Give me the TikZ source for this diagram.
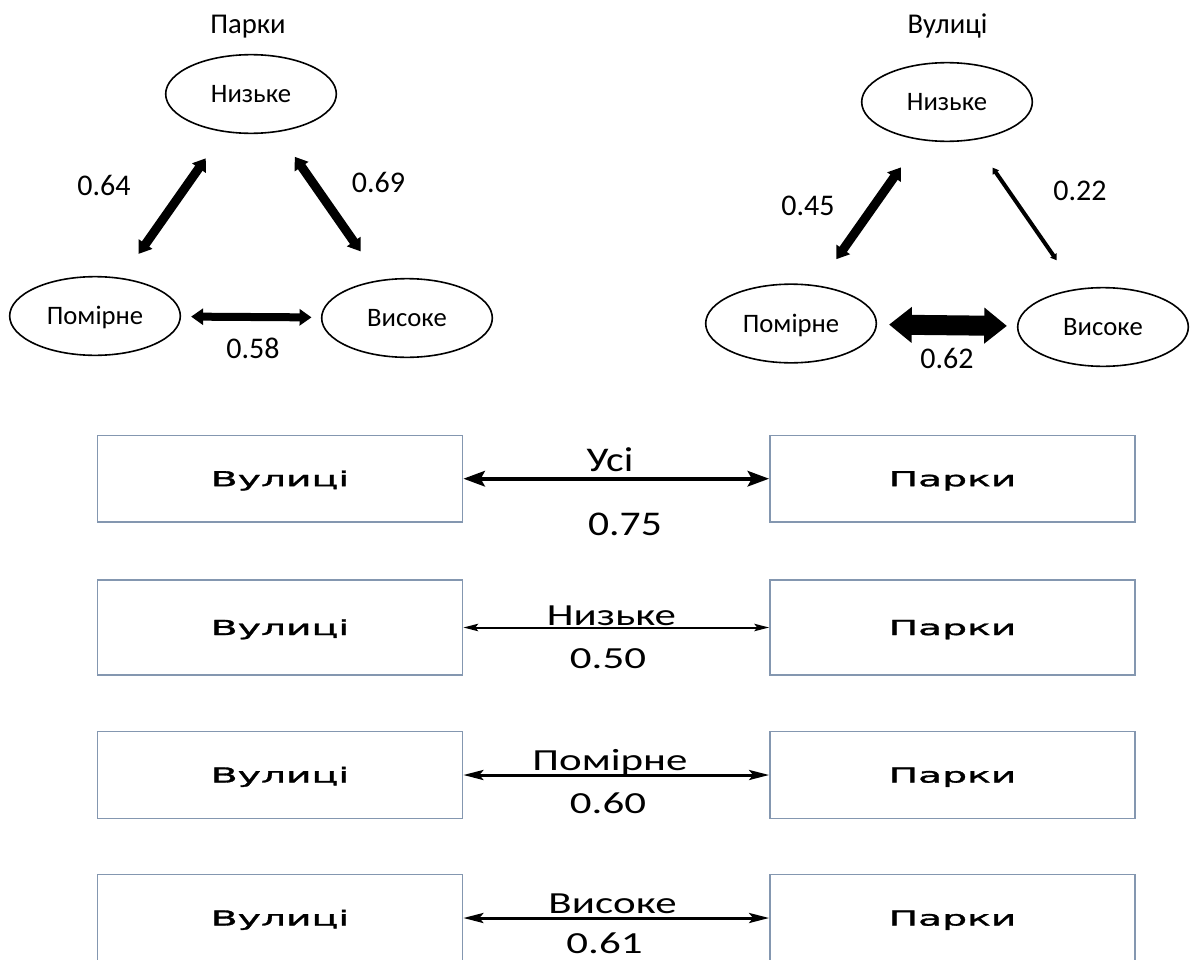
\documentclass[tikz,border=0pt]{standalone}
\usepackage{fontspec}
\setmainfont{Carlito}
\newfontfamily\boxfont[FakeStretch=1.9,FakeBold=1.5]{DejaVu Sans}
\newfontfamily\rowfont[FakeStretch=1.4]{Carlito}
\newfontfamily\allfont[FakeStretch=1.2]{Carlito}
\usetikzlibrary{arrows.meta,shapes.geometric}
\definecolor{boxline}{RGB}{132,151,176}
\tikzset{
  gradeellipse/.style={draw, ellipse, line width=1.2pt, minimum width=128pt, minimum height=59pt, inner sep=0pt,
    font=\fontsize{20}{20}\selectfont, text height=12.9pt, text depth=0pt},
  zonebox/.style={draw=boxline, line width=1.1pt, minimum width=274pt, minimum height=65pt, inner sep=0pt,
    font=\boxfont\fontsize{15.5}{15.5}\selectfont, text height=11.3pt, text depth=0pt},
  headtext/.style={anchor=base, font=\fontsize{21.5}{21.5}\selectfont},
  numtext/.style={anchor=base, font=\fontsize{22.5}{22.5}\selectfont},
  pairtext/.style={anchor=base, font=\rowfont\fontsize{23}{23}\selectfont},
  alltext/.style={anchor=base, font=\allfont\fontsize{26}{26}\selectfont},
  heavyarrow/.style={line width=6.75pt, >={Triangle[length=9pt,width=12pt]}, <->},
  lightarrow/.style={line width=3pt, >={Triangle[length=4.5pt,width=5.5pt]}, <->},
  hugearrow/.style={line width=15pt, >={Triangle[length=17pt,width=26pt]}, <->},
  pairarrow/.style={line width=2.25pt, >={Stealth[length=15pt,width=7.5pt,inset=3pt]}, <->},
}
\begin{document}
\begin{tikzpicture}[x=0.75pt,y=0.75pt,yscale=-1,xscale=1]
\path[use as bounding box] (0,0) rectangle (1190,960);

% Text Node
\draw (248,33) node [headtext] {Парки};
%Shape: Ellipse
\draw (251,94) node [gradeellipse] (pN) {Низьке};
%Shape: Ellipse
\draw (95,316) node [gradeellipse] (pP) {Помірне};
%Shape: Ellipse
\draw (407,318) node [gradeellipse] (pV) {Високе};

%Straight Lines
\draw [heavyarrow, shorten <=24pt, shorten >=22pt] (pN) -- (pP);
\draw [heavyarrow, shorten <=22.5pt, shorten >=26pt] (pN) -- (pV);
\draw [heavyarrow, line width=6pt, shorten <=7.5pt, shorten >=7pt] (pP) -- (pV);

% Text Node
\draw (104,195) node [numtext] {0.64};
% Text Node
\draw (378.5,192) node [numtext] {0.69};
% Text Node
\draw (253,358) node [numtext] {0.58};

% Text Node
\draw (947.5,33) node [headtext] {Вулиці};
%Shape: Ellipse
\draw (947,102) node [gradeellipse] (sN) {Низьке};
%Shape: Ellipse
\draw (791,323.5) node [gradeellipse] (sP) {Помірне};
%Shape: Ellipse
\draw (1103,327) node [gradeellipse] (sV) {Високе};

%Straight Lines
\draw [heavyarrow, shorten <=25pt, shorten >=24pt] (sN) -- (sP);
\draw [lightarrow, shorten <=25pt, shorten >=26pt] (sN) -- (sV);
\draw [hugearrow, shorten <=9pt, shorten >=7.5pt] (sP) -- (sV);

% Text Node
\draw (808,215) node [numtext] {0.45};
% Text Node
\draw (1080,200) node [numtext] {0.22};
% Text Node
\draw (947,368) node [numtext] {0.62};

%Shape: Rectangle
\draw (280,478.7) node [zonebox] (r1s) {Вулиці};
\draw (952.5,478.7) node [zonebox] (r1p) {Парки};
\draw [pairarrow, line width=3pt, >={Stealth[length=16pt,width=11.5pt,inset=3pt]}] (r1s) -- (r1p);
% Text Node
\draw (610,471) node [alltext] {Усі};
\draw (625,535.5) node [alltext] {0.75};

%Shape: Rectangle
\draw (280,627.5) node [zonebox, minimum height=71pt] (r2s) {Вулиці};
\draw (952.5,627.5) node [zonebox, minimum height=71pt] (r2p) {Парки};
\draw [pairarrow, line width=1.5pt, >={Stealth[length=11pt,width=5.5pt,inset=2pt]}] (r2s) -- (r2p);
% Text Node
\draw (611.5,625) node [pairtext] {Низьке};
\draw (608,668) node [pairtext] {0.50};

%Shape: Rectangle
\draw (280,775) node [zonebox] (r3s) {Вулиці};
\draw (952.5,775) node [zonebox] (r3p) {Парки};
\draw [pairarrow] (r3s) -- (r3p);
% Text Node
\draw (610,770) node [pairtext] {Помірне};
\draw (608,813) node [pairtext] {0.60};

%Shape: Rectangle
\draw (280,918) node [zonebox] (r4s) {Вулиці};
\draw (952.5,918) node [zonebox] (r4p) {Парки};
\draw [pairarrow] (r4s) -- (r4p);
% Text Node
\draw (612.5,913) node [pairtext] {Високе};
\draw (604.5,953.5) node [pairtext] {0.61};

\end{tikzpicture}
\end{document}
